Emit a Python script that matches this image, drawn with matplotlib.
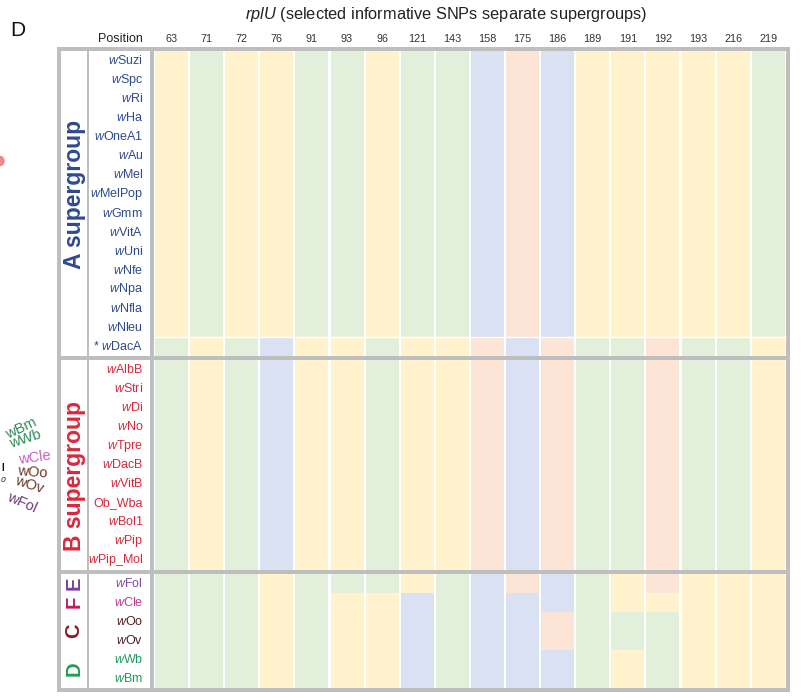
import matplotlib
matplotlib.use("Agg")
import matplotlib.pyplot as plt
from matplotlib.patches import Rectangle, Ellipse

plt.rcParams['font.family'] = ['Liberation Sans', 'DejaVu Sans']
plt.rcParams['mathtext.fontset'] = 'custom'
plt.rcParams['mathtext.rm'] = 'Liberation Sans'
plt.rcParams['mathtext.it'] = 'Liberation Sans:italic'
plt.rcParams['mathtext.bf'] = 'Liberation Sans:bold'

# --- SNP positions in rplU ---
positions = [63, 71, 72, 76, 91, 93, 96, 121, 143, 158, 175, 186,
             189, 191, 192, 193, 216, 219]

# --- base calls per strain (Y/G/B/P = yellow/green/blue/peach base colour) ---
group_a_strains = ["wSuzi", "wSpc", "wRi", "wHa", "wOneA1", "wAu", "wMel",
                   "wMelPop", "wGmm", "wVitA", "wUni", "wNfe", "wNpa",
                   "wNfla", "wNleu", "*wDacA"]
group_a_calls = [
    "YGYYGGYGGBPBYYYYYG",
    "YGYYGGYGGBPBYYYYYG",
    "YGYYGGYGGBPBYYYYYG",
    "YGYYGGYGGBPBYYYYYG",
    "YGYYGGYGGBPBYYYYYG",
    "YGYYGGYGGBPBYYYYYG",
    "YGYYGGYGGBPBYYYYYG",
    "YGYYGGYGGBPBYYYYYG",
    "YGYYGGYGGBPBYYYYYG",
    "YGYYGGYGGBPBYYYYYG",
    "YGYYGGYGGBPBYYYYYG",
    "YGYYGGYGGBPBYYYYYG",
    "YGYYGGYGGBPBYYYYYG",
    "YGYYGGYGGBPBYYYYYG",
    "YGYYGGYGGBPBYYYYYG",
    "GYGBYYGYYPBPGGPGGY",
]

group_b_strains = ["wAlbB", "wStri", "wDi", "wNo", "wTpre", "wDacB", "wVitB",
                   "Ob_Wba", "wBol1", "wPip", "wPip_Mol"]
group_b_calls = [
    "GYGBYYGYYPBPGGPGGY",
    "GYGBYYGYYPBPGGPGGY",
    "GYGBYYGYYPBPGGPGGY",
    "GYGBYYGYYPBPGGPGGY",
    "GYGBYYGYYPBPGGPGGY",
    "GYGBYYGYYPBPGGPGGY",
    "GYGBYYGYYPBPGGPGGY",
    "GYGBYYGYYPBPGGPGGY",
    "GYGBYYGYYPBPGGPGGY",
    "GYGBYYGYYPBPGGPGGY",
    "GYGBYYGYYPBPGGPGGY",
]

group_c_strains = ["wFol", "wCle", "wOo", "wOv", "wWb", "wBm"]
group_c_calls = [
    "GGGYGGGYGBPBGYPYYY",
    "GGGYGYYBGBBBGYYYYY",
    "GGGYGYYBGBBPGGGYYY",
    "GGGYGYYBGBBPGGGYYY",
    "GGGYGYYBGBBBGYGYYY",
    "GGGYGYYBGBBBGYGYYY",
]

base_colors = {"Y": "#FFF2CC", "G": "#E2EFDA", "B": "#D9E1F2", "P": "#FCE4D6"}
grid_gray = "#BEBEBE"

A_BLUE = "#2F4A8E"
B_RED = "#D8283C"
label_colors_c = ["#7D4E9F", "#C2378F", "#4A2222", "#4A2222", "#1F9A5C", "#1F9A5C"]

# --- layout (row = 1 unit, column = 1 unit) ---
W, H = 801, 698
col_px, row_px = 35.1, 19.06
data_left_px, data_top_px = 154, 51
gap = 4 / row_px

fig = plt.figure(figsize=(W / 100, H / 100), dpi=100)
box_l, box_r, box_t, box_b = 57, 790, 47, 692
ax = fig.add_axes([box_l / W, 1 - box_b / H, (box_r - box_l) / W, (box_b - box_t) / H])
ax.set_xlim((box_l - data_left_px) / col_px, (box_r - data_left_px) / col_px)
ax.set_ylim((box_b - data_top_px) / row_px, (box_t - data_top_px) / row_px)
ax.set_facecolor(grid_gray)
for s in ax.spines.values():
    s.set_visible(False)
ax.set_xticks([])
ax.set_yticks([])

grp_x0 = (61 - data_left_px) / col_px
grp_x1 = (87 - data_left_px) / col_px
lab_x0 = (88.5 - data_left_px) / col_px
lab_x1 = (150 - data_left_px) / col_px
lab_x = (143 - data_left_px) / col_px
ncol = len(positions)


def strain_label(name):
    if name.startswith("*w"):
        return "* $\\it{w}$" + name[2:]
    if name.startswith("w"):
        return "$\\it{w}$" + name[1:]
    return name


groups = [
    (group_a_strains, group_a_calls, [A_BLUE] * len(group_a_strains)),
    (group_b_strains, group_b_calls, [B_RED] * len(group_b_strains)),
    (group_c_strains, group_c_calls, label_colors_c),
]

y0 = 0.0
group_spans = []
for strains, calls, colors in groups:
    n = len(strains)
    ax.add_patch(Rectangle((grp_x0, y0), grp_x1 - grp_x0, n, color="white", lw=0))
    ax.add_patch(Rectangle((lab_x0, y0), lab_x1 - lab_x0, n, color="white", lw=0))
    ax.add_patch(Rectangle((0, y0), ncol, n, color="white", lw=0))
    for i, (name, row, c) in enumerate(zip(strains, calls, colors)):
        for j, base in enumerate(row):
            ax.add_patch(Rectangle((j + 0.03, y0 + i), 0.94, 1,
                                   color=base_colors[base], lw=0))
        ax.text(lab_x, y0 + i + 0.5, strain_label(name), ha="right", va="center",
                fontsize=9, color=c)
    group_spans.append((y0, y0 + n))
    y0 += n + gap

# thin white line setting wDacA apart from the rest of supergroup A
ax.hlines(len(group_a_strains) - 1, 0, ncol, color="white", lw=1)

# supergroup labels
grp_xc = (74 - data_left_px) / col_px
ya, yb = group_spans[0], group_spans[1]
ax.text(grp_xc, sum(ya) / 2 - 0.5, "A supergroup", rotation=90, ha="center",
        va="center", fontsize=16.5, fontweight="bold", color=A_BLUE)
ax.text(grp_xc, sum(yb) / 2 + 0.6, "B supergroup", rotation=90, ha="center",
        va="center", fontsize=16.5, fontweight="bold", color=B_RED)
yc = group_spans[2][0]
for letter, row_mid, c in [("E", 0.5, "#7A3E9D"), ("F", 1.5, "#C2185B"),
                           ("C", 3.0, "#8B1A2B"), ("D", 5.0, "#1E9E50")]:
    ax.text(grp_xc, yc + row_mid, letter, rotation=90, ha="center", va="center",
            fontsize=14.5, fontweight="bold", color=c)

# column header
head_y = (39.5 - data_top_px) / row_px
ax.text(lab_x, head_y, "Position", ha="right", va="center", fontsize=9,
        color="#222222", clip_on=False)
for j, p in enumerate(positions):
    ax.text(j + 0.5, head_y, str(p), ha="center", va="center", fontsize=7.8,
            color="#333333", clip_on=False)

fig.text(446 / W, 1 - 14 / H,
         "$\\it{rplU}$ (selected informative SNPs separate supergroups)",
         ha="center", va="center", fontsize=11.8, color="#222222")
fig.text(18 / W, 1 - 30 / H, "D", ha="center", va="center", fontsize=15, color="#111111")

# cut-off labels of the neighbouring panel
side_labels = [("wBm", 21, 428, 25, "#2E8B57"), ("wWb", 25, 439, 18, "#2E8B57"),
               ("wCle", 35, 458, 8, "#C060C0"), ("wOo", 32, 472, -5, "#6B3A2A"),
               ("wOv", 29, 485, -18, "#6B3A2A"), ("wFol", 22, 503, -24, "#6B3A7A")]
for txt, x, y, rot, c in side_labels:
    fig.text(x / W, 1 - y / H, txt, rotation=rot, ha="center", va="center",
             fontsize=10.5, color=c, rotation_mode="anchor")
fig.text(3 / W, 1 - 468 / H, "I", ha="center", va="center", fontsize=7,
         fontweight="bold", color="#111111")
fig.text(3 / W, 1 - 481 / H, "0", ha="center", va="center", fontsize=6,
         style="italic", color="#111111")
fig.add_artist(Ellipse((0, 1 - 161 / H), 8 / W, 9 / H, color="#F07070",
                       transform=fig.transFigure, alpha=0.8))

fig.savefig("out.png", dpi=100)
